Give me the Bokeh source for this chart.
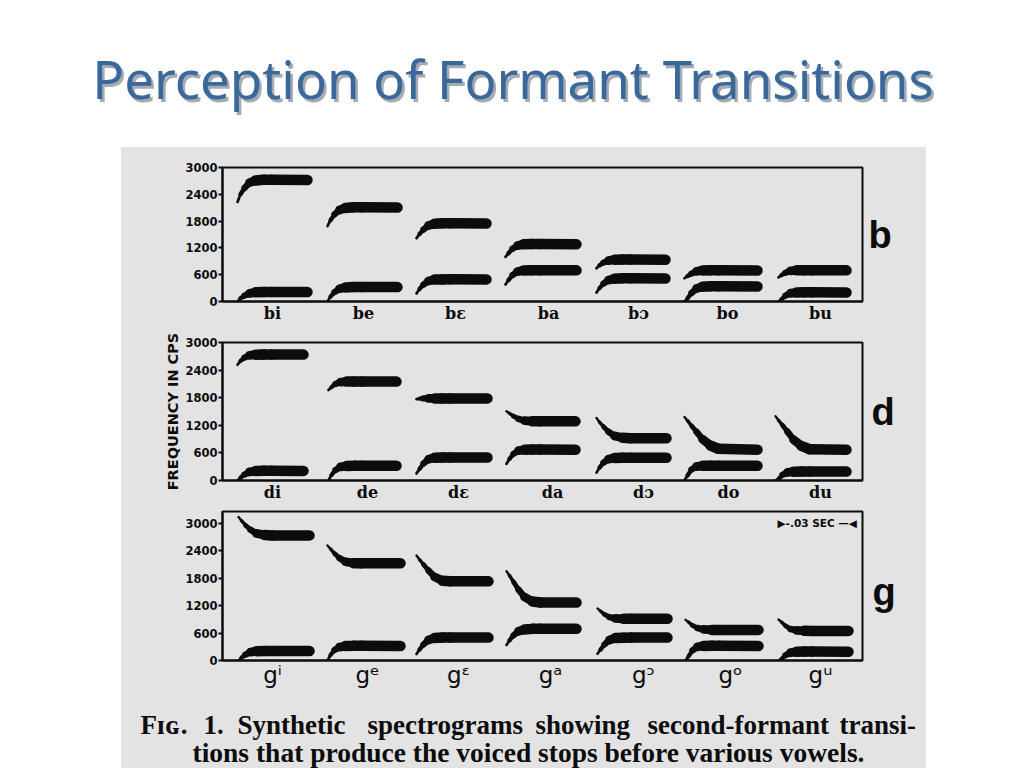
from bokeh.core.properties import value
from bokeh.embed import file_html
from bokeh.layouts import column, row
from bokeh.models import ColumnDataSource, FixedTicker, Label, LinearAxis, Range1d, Spacer
from bokeh.plotting import figure
from bokeh.resources import INLINE

# time points of a syllable, in units of the time axis (640 units across a panel)
time_points = [0, 3, 7, 12, 18, 26, 34]

freq_ticks = [0, 600, 1200, 1800, 2400, 3000]

labels_b = ["bi", "be", "bɛ", "ba", "bɔ", "bo", "bu"]
labels_d = ["di", "de", "dɛ", "da", "dɔ", "do", "du"]
labels_g = ["gⁱ", "gᵉ", "gᵋ", "gᵃ", "gᵓ", "gᵒ", "gᵘ"]

label_pos_b = [50, 141, 233, 326, 416, 505, 598]
label_pos_d = [50, 145, 236, 330, 421, 506, 598]
label_pos_g = [50, 145, 236, 328, 421, 508, 598]

onset_b = [15, 105, 194, 283, 374, 462, 556]
onset_d = [15, 106, 194, 284, 374, 462, 553]
onset_g = [16, 105, 194, 284, 375, 463, 556]

duration_b = [70, 70, 70, 71, 69, 73, 68]
duration_d = [66, 68, 71, 69, 70, 73, 71]
duration_g = [71, 73, 72, 70, 70, 73, 70]

# second and first formants (cps), /b/ row
bi_f2 = [2230, 2400, 2540, 2660, 2710, 2725, 2725, 2720]
bi_f1 = [0, 70, 130, 180, 205, 210, 212, 210]
be_f2 = [1690, 1820, 1950, 2050, 2095, 2110, 2110, 2105]
be_f1 = [0, 110, 210, 285, 315, 322, 322, 322]
beh_f2 = [1417, 1510, 1610, 1700, 1740, 1750, 1750, 1745]
beh_f1 = [180, 280, 380, 460, 490, 495, 497, 495]
ba_f2 = [1000, 1080, 1180, 1250, 1280, 1285, 1285, 1280]
ba_f1 = [382, 480, 590, 670, 695, 700, 700, 697]
boh_f2 = [745, 810, 870, 915, 935, 940, 940, 935]
boh_f1 = [200, 300, 400, 480, 510, 520, 520, 515]
bo_f2 = [520, 570, 625, 675, 695, 700, 700, 695]
bo_f1 = [0, 70, 190, 290, 330, 340, 340, 335]
bu_f2 = [540, 590, 645, 685, 697, 700, 700, 697]
bu_f1 = [0, 50, 130, 185, 200, 205, 205, 202]

# /d/ row
di_f2 = [2517, 2600, 2670, 2720, 2735, 2740, 2740, 2737]
di_f1 = [0, 60, 130, 185, 205, 210, 210, 209]
de_f2 = [1967, 2030, 2100, 2140, 2150, 2150, 2150, 2150]
de_f1 = [0, 120, 230, 295, 315, 320, 320, 319]
deh_f2 = [1770, 1780, 1785, 1785, 1785, 1785, 1785, 1785]
deh_f1 = [150, 250, 370, 460, 495, 502, 502, 500]
da_f2 = [1506, 1460, 1400, 1340, 1300, 1288, 1286, 1286]
da_f1 = [363, 470, 580, 650, 668, 672, 672, 670]
doh_f2 = [1358, 1270, 1170, 1060, 970, 930, 920, 919]
doh_f1 = [171, 280, 390, 465, 490, 497, 497, 495]
do_f2 = [1380, 1300, 1190, 1060, 900, 760, 690, 670]
do_f1 = [0, 110, 240, 305, 318, 320, 320, 319]
du_f2 = [1396, 1310, 1200, 1060, 890, 750, 680, 670]
du_f1 = [0, 30, 120, 175, 190, 195, 195, 193]

# /g/ row
gi_f2 = [3140, 3060, 2960, 2860, 2780, 2745, 2737, 2737]
gi_f1 = [0, 60, 130, 185, 205, 210, 210, 209]
ge_f2 = [2517, 2440, 2340, 2240, 2160, 2130, 2128, 2128]
ge_f1 = [0, 120, 230, 295, 315, 320, 320, 319]
geh_f2 = [2297, 2210, 2100, 1970, 1830, 1745, 1732, 1732]
geh_f1 = [143, 240, 350, 450, 490, 502, 502, 501]
ga_f2 = [1952, 1860, 1720, 1550, 1390, 1290, 1270, 1270]
ga_f1 = [341, 440, 550, 640, 680, 692, 692, 692]
goh_f2 = [1139, 1080, 1010, 950, 920, 912, 912, 912]
goh_f1 = [149, 240, 350, 450, 490, 500, 501, 501]
go_f2 = [890, 840, 770, 710, 680, 670, 670, 670]
go_f1 = [0, 90, 220, 300, 318, 320, 320, 319]
gu_f2 = [897, 840, 760, 690, 660, 650, 648, 648]
gu_f1 = [0, 30, 115, 170, 190, 195, 195, 193]

curves_b = [bi_f2, bi_f1, be_f2, be_f1, beh_f2, beh_f1, ba_f2, ba_f1, boh_f2, boh_f1, bo_f2, bo_f1, bu_f2, bu_f1]
curves_d = [di_f2, di_f1, de_f2, de_f1, deh_f2, deh_f1, da_f2, da_f1, doh_f2, doh_f1, do_f2, do_f1, du_f2, du_f1]
curves_g = [gi_f2, gi_f1, ge_f2, ge_f1, geh_f2, geh_f1, ga_f2, ga_f1, goh_f2, goh_f1, go_f2, go_f1, gu_f2, gu_f1]

caption_words = ["Fɪɢ.", "1.", "Synthetic", "spectrograms", "showing", "second-formant", "transi-"]
caption_line2 = "tions that produce the voiced stops before various vowels."
title_text = "Perception of Formant Transitions"

GREY = "#E3E3E3"
INK = "#0C0C0C"


def segments(curves, onsets, durations, full=10.5):
    x0, y0, x1, y1, w = [], [], [], [], []
    for i, (on, dur) in enumerate(zip(onsets, durations)):
        t = time_points + [dur]
        for f in (curves[2 * i], curves[2 * i + 1]):
            taper = 32 if f[0] > f[-1] + 150 else 22
            for k in range(len(t) - 1):
                x0.append(on + t[k]); x1.append(on + t[k + 1])
                y0.append(f[k]); y1.append(f[k + 1])
                w.append(1.5 + (full - 1.5) * min(1, t[k + 1] / taper))
    return ColumnDataSource(dict(x0=x0, y0=y0, x1=x1, y1=y1, w=w))


def panel(curves, onsets, durations, labels, label_pos, ymax, height, top, bottom, label_font, label_style,
          label_size, standoff, letter, letter_standoff, letter_at):
    p = figure(width=805, height=height, x_range=Range1d(0, 640), y_range=Range1d(0, ymax),
               output_backend="svg", toolbar_location=None, min_border_left=101, min_border_right=64,
               min_border_top=top, min_border_bottom=bottom, background_fill_color=GREY,
               border_fill_color=GREY, outline_line_color=INK, outline_line_width=2)
    p.grid.visible = False
    p.segment("x0", "y0", "x1", "y1", source=segments(curves, onsets, durations), line_width="w",
              line_color=INK, line_cap="round")
    ya, xa = p.yaxis[0], p.xaxis[0]
    ya.ticker = FixedTicker(ticks=freq_ticks)
    ya.minor_tick_line_color = None
    ya.major_tick_in = 0
    ya.major_tick_out = 4
    ya.major_tick_line_width = 2
    ya.major_tick_line_color = INK
    ya.axis_line_width = 2
    ya.axis_line_color = INK
    ya.major_label_standoff = 1
    ya.major_label_text_font = "DejaVu Sans"
    ya.major_label_text_font_style = "bold"
    ya.major_label_text_font_size = "11.5px"
    ya.major_label_text_color = INK
    xa.ticker = FixedTicker(ticks=label_pos)
    xa.major_label_overrides = {pos: lab for pos, lab in zip(label_pos, labels)}
    xa.minor_tick_line_color = None
    xa.major_tick_line_color = None
    xa.major_tick_in = 0
    xa.major_tick_out = 0
    xa.axis_line_width = 2
    xa.axis_line_color = INK
    xa.major_label_standoff = standoff
    xa.major_label_text_font = label_font
    xa.major_label_text_font_style = label_style
    xa.major_label_text_font_size = label_size
    xa.major_label_text_color = INK
    # the consonant of each row, set beside the panel
    side = LinearAxis(ticker=FixedTicker(ticks=[letter_at]), major_label_overrides={letter_at: letter},
                      axis_line_color=None, major_tick_line_color=None, minor_tick_line_color=None,
                      major_tick_in=0, major_tick_out=0, major_label_standoff=letter_standoff,
                      major_label_text_font="Liberation Sans", major_label_text_font_style="bold",
                      major_label_text_font_size="38px", major_label_text_color=INK)
    p.add_layout(side, "right")
    return p


p1 = panel(curves_b, onset_b, duration_b, labels_b, label_pos_b, 3000, 183, 20, 29,
           "DejaVu Serif", "bold", "16px", 2, "b", 6, 1500)
p2 = panel(curves_d, onset_d, duration_d, labels_d, label_pos_d, 3000, 178, 12, 28,
           "DejaVu Serif", "bold", "16px", 2, "d", 9, 1500)
p3 = panel(curves_g, onset_g, duration_g, labels_g, label_pos_g, 3260, 182, 3, 30,
           "DejaVu Sans", "normal", "23px", 1, "g", 10, 1500)

p2.yaxis[0].axis_label = "FREQUENCY IN CPS"
p2.yaxis[0].axis_label_text_font = "DejaVu Sans"
p2.yaxis[0].axis_label_text_font_style = "bold"
p2.yaxis[0].axis_label_text_font_size = "14.5px"
p2.yaxis[0].axis_label_text_color = INK
p2.yaxis[0].axis_label_standoff = 1
p3.add_layout(Label(x=555, y=3000, text="▶-.03 SEC —◀", text_font="DejaVu Sans", text_font_style="bold",
                    text_font_size="10.5px", text_color=INK, text_align="left", text_baseline="middle"))

# caption
cap = figure(width=805, height=78, x_range=Range1d(0, 805), y_range=Range1d(78, 0), output_backend="svg",
             toolbar_location=None, min_border=0, background_fill_color=GREY, border_fill_color=GREY,
             outline_line_color=None, styles={"background-color": GREY})
cap.axis.visible = False
cap.grid.visible = False
word_x = [19, 82, 116, 246, 414, 526, 718]
cap.text(x=word_x, y=[34] * 7, text=caption_words, text_font=value("Liberation Serif"),
         text_font_style="bold", text_font_size="27px", text_color=INK, text_baseline="alphabetic")
cap.text(x=[407], y=[62], text=[caption_line2], text_font=value("Liberation Serif"), text_font_style="bold",
         text_font_size="27.5px", text_color=INK, text_align="center", text_baseline="alphabetic")

# slide title
head = figure(width=1024, height=147, x_range=Range1d(0, 1024), y_range=Range1d(147, 0), output_backend="svg",
              toolbar_location=None, min_border=0, background_fill_color="white", border_fill_color="white",
              outline_line_color=None)
head.axis.visible = False
head.grid.visible = False
head.text(x=[515], y=[80.5], text=[title_text], text_font=value("Noto Sans"), text_font_size="52.8px",
          text_color="#A4ABB3", text_align="center", text_baseline="alphabetic")
head.text(x=[512.5], y=[78], text=[title_text], text_font=value("Noto Sans"), text_font_size="52.8px",
          text_color="#3A689B", text_align="center", text_baseline="alphabetic")

panels = column(p1, p2, p3, spacing=0, styles={"background-color": GREY})
page = column(
    head,
    row(Spacer(width=121, height=543), panels, spacing=0),
    row(Spacer(width=121, height=78), cap, spacing=0),
    spacing=0,
)

open("out.html", "w").write(file_html(page, INLINE))
